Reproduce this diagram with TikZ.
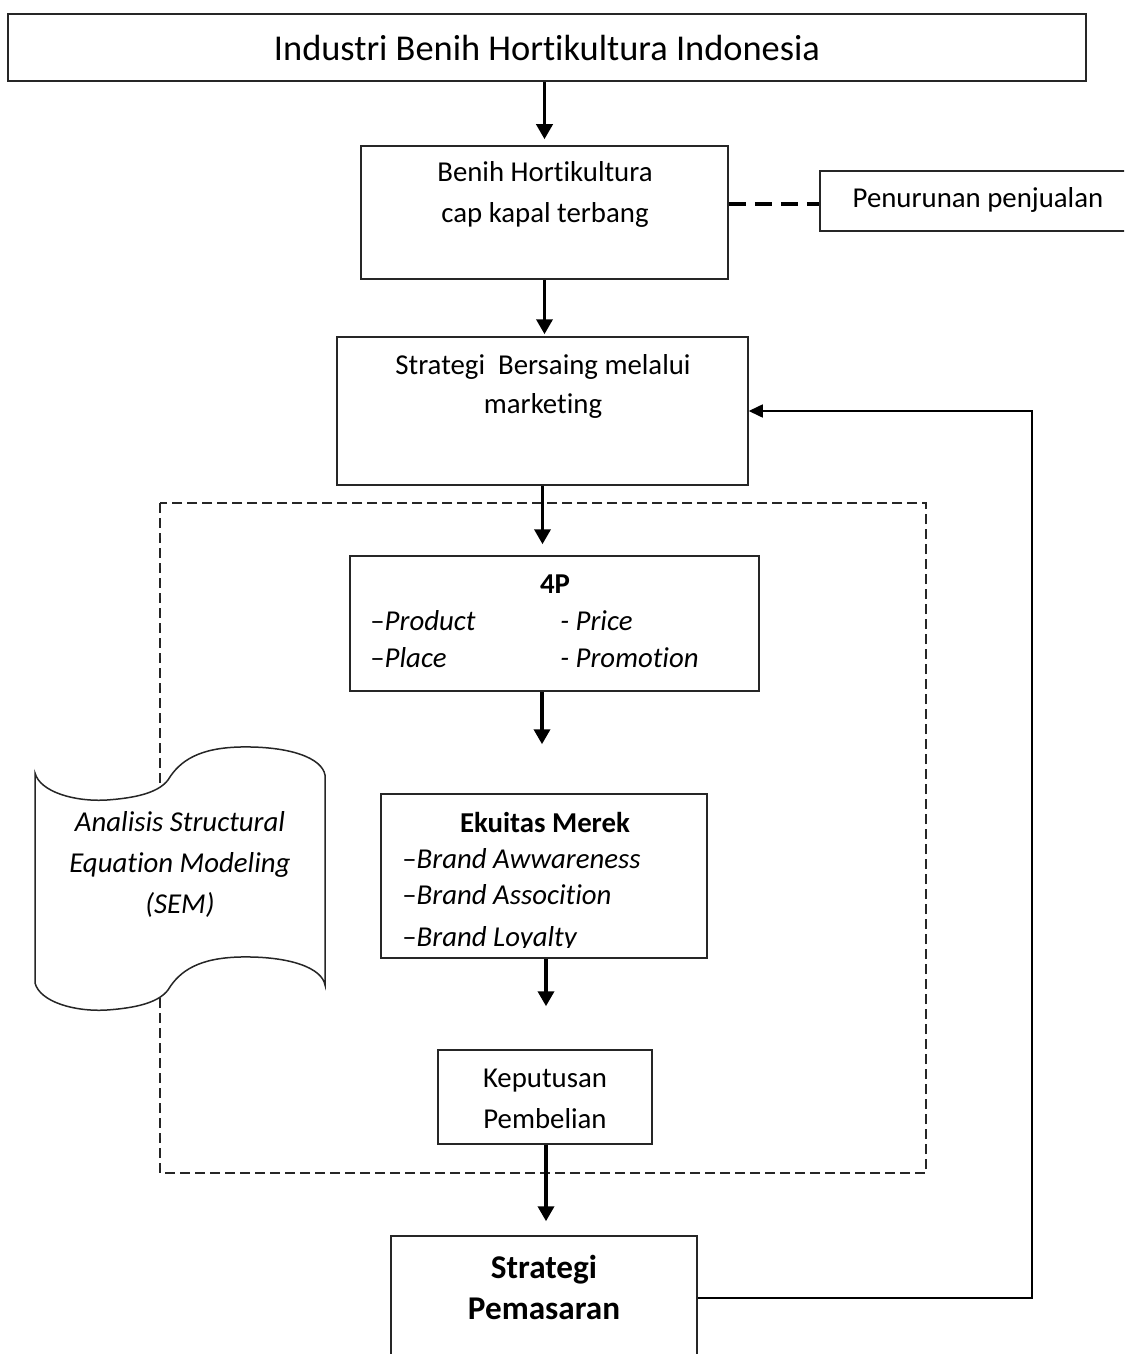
\documentclass[tikz,border=0pt]{standalone}
\usepackage{fontspec}
\setmainfont{Carlito}[Ligatures={NoCommon}]
\usetikzlibrary{arrows.meta,calc}
\begin{document}
\begin{tikzpicture}[x=0.5pt,y=-0.5pt,
  box/.style={draw=black!85, line width=0.75pt, inner sep=0pt, rectangle},
  txt/.style={inner sep=0pt, align=center, font=\fontsize{14.4}{20.5}\selectfont},
  itm/.style={inner sep=0pt, anchor=base west, font=\fontsize{14.4}{20.5}\selectfont},
  arr/.style={line width=1.8pt, -{Triangle[width=8pt,length=7.5pt]}},
  fb/.style={line width=0.8pt, -{Triangle[width=6.5pt,length=7pt]}},
  dashbox/.style={draw=black!85, line width=0.75pt, dash pattern=on 5pt off 2.5pt},
  thickdash/.style={line width=2.4pt, dash pattern=on 8.8pt off 4.2pt}]
\useasboundingbox (0,0) rectangle (1124,1354);
\clip (0,0) rectangle (1124,1354);
\fill[white] (0,0) rectangle (1124,1354);

% dashed frame
\draw[dashbox] (160,503) rectangle (926,1173);

% boxes
\node[box, minimum width=539pt, minimum height=33.5pt] (top) at (547,47.5) {};
\node[box, minimum width=183.5pt, minimum height=66.5pt] (benih) at (544.5,212.5) {};
\node[box, minimum width=165pt, minimum height=30pt] (turun) at (985,201) {};
\node[box, minimum width=205.5pt, minimum height=74pt] (strat) at (542.5,411) {};
\node[box, minimum width=204.5pt, minimum height=67.5pt] (fourp) at (554.5,623.5) {};
\node[box, minimum width=163pt, minimum height=82pt] (ekuitas) at (544,876) {};
\node[box, minimum width=107pt, minimum height=47pt] (kep) at (545,1097) {};
\node[box, minimum width=153pt, minimum height=72pt] (pem) at (544,1308) {};

% texts
\node[txt, font=\fontsize{18.2}{22}\selectfont] (ttop) at (547,48) {Industri Benih Hortikultura Indonesia};
\node[txt] (tbenih) at (545,194.5) {Benih Hortikultura\\cap kapal terbang};
\node[txt] (tturun) at (978,200) {Penurunan penjualan};
\node[txt, font=\fontsize{14.4}{19.5}\selectfont] (tstrat) at (543,386.5) {Strategi\ \ Bersaing melalui\\marketing};
\node[txt, font=\bfseries\fontsize{14.4}{20.5}\selectfont] (t4p) at (555,584) {4P};
\node[itm] (tprod) at (370,630) {–\textit{Product}};
\node[itm] (tplace) at (370,667) {–\textit{Place}};
\node[itm] (tprice) at (560,630) {\textit{- Price}};
\node[itm] (tpromo) at (560,667) {\textit{- Promotion}};
\node[txt, font=\bfseries\fontsize{14.4}{20.5}\selectfont] (tek) at (545,822) {Ekuitas Merek};
\node[itm] (taw) at (402,868) {–\textit{Brand Awwareness}};
\node[itm] (tas) at (402,904) {–\textit{Brand Assocition}};
\begin{scope}
\clip (381,794) rectangle (707,947);
\node[itm] (tlo) at (402,946) {–\textit{Brand Loyalty}};
\end{scope}
\node[txt] (tkep) at (545,1098.5) {Keputusan\\Pembelian};
\node[txt, font=\bfseries\fontsize{16.6}{20.5}\selectfont] (tpem) at (544,1287.5) {Strategi\\Pemasaran};

% connectors
\draw[arr] (top.south -| benih.north) -- ([yshift=3pt]benih.north);
\draw[arr] (benih.south) -- ([yshift=1pt]benih.south |- strat.north);
\draw[arr, shorten >=5.5pt] (strat.south) -- (strat.south |- fourp.north);
\draw[arr, shorten >=24.5pt] ([xshift=-6.25pt]fourp.south) -- ([xshift=-6.25pt]fourp.south |- ekuitas.north);
\draw[arr, shorten >=21.5pt] ([xshift=1pt]ekuitas.south) -- ([xshift=1pt]ekuitas.south |- kep.north);
\draw[arr, shorten >=7pt] ([xshift=0.5pt]kep.south) -- ([xshift=0.5pt]kep.south |- pem.north);
\draw[thickdash] ([yshift=-1.5pt]benih.east |- turun.west) -- ([yshift=-1.5pt]turun.west);
\coordinate (fbcorner) at (1032,1298);
\draw[fb] ([yshift=5pt]pem.east) -- (fbcorner) |- (strat.east);

% SEM tape
\draw[draw=black!85, line width=0.75pt, fill=white]
  (35,773) .. controls (40,792) and (75,802) .. (107,800)
  .. controls (135,798) and (158,793) .. (168,780)
  .. controls (180,760) and (200,748) .. (240,747)
  .. controls (290,746) and (322,758) .. (325,775)
  -- (325,985)
  .. controls (322,968) and (290,956) .. (240,957)
  .. controls (200,958) and (180,970) .. (168,990)
  .. controls (158,1003) and (135,1008) .. (107,1010)
  .. controls (75,1012) and (40,1002) .. (35,983) -- cycle;
\node[txt, font=\itshape\fontsize{14.4}{20.5}\selectfont] (tsem) at (180,864.5) {Analisis Structural\\Equation Modeling\\(SEM)};
\end{tikzpicture}
\end{document}
